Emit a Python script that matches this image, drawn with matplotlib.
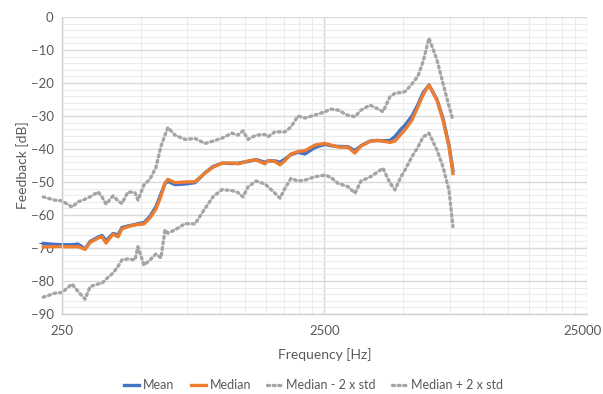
import matplotlib
matplotlib.use("Agg")
import matplotlib.pyplot as plt
from matplotlib.ticker import FixedLocator, NullFormatter
from matplotlib.transforms import ScaledTranslation

plt.rcParams['font.family'] = ['Lato', 'DejaVu Sans']

freq_hz = [212, 235, 250, 273, 288, 306, 320, 343, 355, 368,
           391, 409, 423, 446, 474, 487, 513, 541, 570, 596,
           617, 633, 674, 736, 803, 877, 940, 1017, 1111, 1171,
           1223, 1278, 1371, 1483, 1523, 1619, 1692, 1768, 1863, 1982,
           2107, 2300, 2511, 2647, 2814, 3073, 3267, 3444, 3727, 3962,
           4176, 4441, 4640, 4890, 5065, 5386, 5677, 5931, 6252, 6707,
           7069, 7451, 7717]

mean_db = [-68.6, -68.9, -69.0, -69.0, -68.8, -70.3, -68.0, -66.7, -66.2, -67.8,
           -65.6, -66.0, -63.8, -63.3, -62.9, -62.6, -62.3, -60.4, -57.5, -53.5,
           -50.5, -49.8, -50.8, -50.6, -50.2, -47.2, -45.3, -44.3, -44.4, -44.3,
           -44.0, -43.8, -43.2, -44.0, -43.6, -43.6, -44.0, -43.0, -41.7, -41.0,
           -41.5, -39.5, -38.6, -39.0, -39.2, -39.3, -40.5, -39.0, -37.6, -37.4,
           -37.5, -37.4, -36.2, -34.0, -32.8, -30.0, -26.5, -23.0, -20.6, -25.0,
           -30.7, -38.8, -46.5]

median_db = [-69.7, -69.6, -69.6, -69.6, -69.6, -70.4, -68.3, -67.0, -66.6, -68.5,
             -65.8, -66.6, -64.2, -63.5, -63.0, -62.9, -62.7, -60.9, -58.2, -54.2,
             -50.3, -49.2, -50.2, -50.0, -49.9, -47.3, -45.5, -44.3, -44.2, -44.5,
             -44.1, -43.6, -43.3, -44.5, -43.5, -43.8, -44.8, -43.5, -41.5, -40.8,
             -40.5, -38.8, -38.3, -38.8, -39.4, -39.5, -41.2, -39.1, -37.7, -37.4,
             -37.6, -38.0, -37.6, -35.5, -34.2, -31.2, -27.2, -23.6, -20.6, -25.2,
             -31.2, -39.3, -47.4]

median_minus_2std_db = [-84.9, -83.7, -83.5, -80.9, -83.2, -85.5, -81.7, -80.9, -80.7, -79.4,
                        -77.6, -75.5, -73.6, -73.3, -73.6, -69.6, -75.2, -73.6, -71.8, -73.0,
                        -64.5, -65.5, -64.5, -62.6, -62.7, -58.0, -54.5, -52.3, -52.6, -53.2,
                        -54.5, -51.5, -49.7, -50.6, -51.4, -53.4, -54.9, -51.9, -48.9, -49.7,
                        -49.4, -48.4, -47.9, -48.6, -50.4, -51.4, -53.4, -49.7, -48.5, -47.1,
                        -45.8, -50.3, -52.4, -48.4, -46.4, -42.3, -39.4, -36.4, -35.2, -40.3,
                        -45.4, -52.4, -63.5]

median_plus_2std_db = [-54.5, -55.5, -55.7, -57.6, -56.0, -55.2, -54.5, -53.0, -54.5, -56.7,
                       -54.2, -55.7, -56.5, -53.0, -53.2, -55.5, -50.9, -49.1, -45.6, -39.1,
                       -35.8, -33.5, -35.8, -37.1, -36.8, -38.3, -37.6, -36.7, -35.2, -35.8,
                       -34.5, -37.1, -35.8, -35.6, -36.3, -34.8, -34.8, -34.8, -33.3, -30.0,
                       -30.6, -29.7, -28.7, -27.9, -28.2, -29.8, -30.2, -28.2, -26.7, -27.7,
                       -28.7, -24.2, -23.1, -22.9, -22.6, -20.3, -17.9, -13.6, -6.4, -13.0,
                       -20.1, -27.0, -31.2]

x_major_ticks = [250, 2500, 25000]
x_minor_ticks = [250 * k for k in range(2, 10)] + [2500 * k for k in range(2, 10)]
y_ticks = list(range(-90, 1, 10))

text_gray = '#595959'

fig = plt.figure(figsize=(6.03, 3.94), dpi=100)
ax = fig.add_axes([0.1028, 0.203, 0.8706, 0.7538])

ax.set_xscale('log')
ax.set_xlim(250, 25000)
ax.set_ylim(-90, 0)

ax.xaxis.set_major_locator(FixedLocator(x_major_ticks))
ax.xaxis.set_minor_locator(FixedLocator(x_minor_ticks))
ax.xaxis.set_minor_formatter(NullFormatter())
ax.set_xticklabels([str(t) for t in x_major_ticks])
ax.yaxis.set_major_locator(FixedLocator(y_ticks))
ax.yaxis.set_minor_locator(FixedLocator(list(range(-90, 1, 2))))

ax.grid(which='major', color='#d9d9d9', linewidth=1.0)
ax.grid(which='minor', color='#ececec', linewidth=0.8)
ax.set_axisbelow(True)

for side in ('top', 'right'):
    ax.spines[side].set_visible(False)
for side in ('left', 'bottom'):
    ax.spines[side].set_color('#d0d0d0')
    ax.spines[side].set_linewidth(1.0)

ax.tick_params(which='both', length=0, colors=text_gray, labelsize=9.5)
ax.tick_params(axis='x', pad=8)
ax.tick_params(axis='y', pad=6)

# keep the rightmost frequency label inside the canvas
last_label = ax.get_xticklabels()[-1]
last_label.set_transform(last_label.get_transform()
                         + ScaledTranslation(-4 / 100, 0, fig.dpi_scale_trans))

dot_style = dict(color='#a5a5a5', linewidth=2.4, linestyle=(0, (0.6, 1.1)),
                 dash_capstyle='round', clip_on=False)
ax.plot(freq_hz, mean_db, color='#4472c4', linewidth=2.4, label='Mean',
        clip_on=False, solid_joinstyle='round')
ax.plot(freq_hz, median_db, color='#ed7d31', linewidth=2.4, label='Median',
        clip_on=False, solid_joinstyle='round')
ax.plot(freq_hz, median_minus_2std_db, label='Median - 2 x std', **dot_style)
ax.plot(freq_hz, median_plus_2std_db, label='Median + 2 x std', **dot_style)

ax.set_xlabel('Frequency [Hz]', color=text_gray, fontsize=10, labelpad=8)
ax.set_ylabel('Feedback [dB]', color=text_gray, fontsize=10, labelpad=1)

fig.legend(loc='center', bbox_to_anchor=(0.52, 0.022), ncol=4, frameon=False,
           fontsize=9, labelcolor=text_gray, handlelength=1.2,
           handletextpad=0.3, columnspacing=1.3)

fig.savefig('out.png', dpi=100)
